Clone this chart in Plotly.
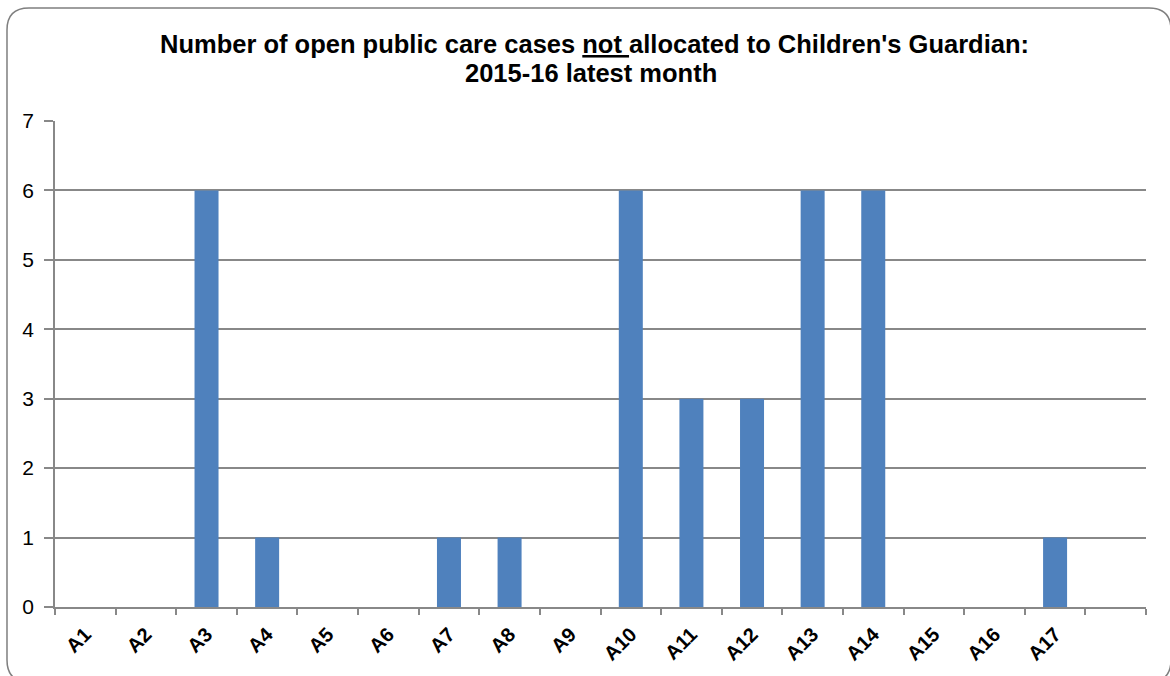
import plotly.graph_objects as go

categories = ["A1", "A2", "A3", "A4", "A5", "A6", "A7", "A8", "A9", "A10",
              "A11", "A12", "A13", "A14", "A15", "A16", "A17"]
values = [0, 0, 6, 1, 0, 0, 1, 1, 0, 6, 3, 3, 6, 6, 0, 0, 1]
axis_slots = categories + [" "]
y_ticks = [0, 1, 2, 3, 4, 5, 6, 7]
title_line1 = "Number of open public care cases <u>not </u>allocated to Children's Guardian:"
title_line2 = "2015-16 latest month"

W, H = 1170, 676
ML, MR, MT, MB = 55, 24, 121, 69
PW, PH = W - ML - MR, H - MT - MB


def px(x):
    return (x - ML) / PW


def py(y):
    return (H - MB - y) / PH


fig = go.Figure()
fig.add_trace(go.Bar(x=categories, y=values, marker=dict(color="#4F81BD", line=dict(width=0))))

grey = "#888888"
fig.update_layout(
    width=W, height=H,
    margin=dict(l=ML, r=MR, t=MT, b=MB, autoexpand=False),
    paper_bgcolor="white", plot_bgcolor="white",
    bargap=0.604,
    showlegend=False,
    font=dict(family="Liberation Sans, Arial, sans-serif", color="black"),
    xaxis=dict(
        type="category", categoryorder="array", categoryarray=axis_slots,
        range=[-0.5, len(axis_slots) - 0.5],
        tickson="boundaries", ticks="outside", ticklen=6, tickcolor=grey, tickwidth=1.5,
        showline=True, linecolor=grey, linewidth=1.5,
        showgrid=False, tickangle=-45, ticklabelstandoff=6,
        tickfont=dict(size=20, family="Liberation Sans, Arial, sans-serif", weight="bold"),
        fixedrange=True,
    ),
    yaxis=dict(
        range=[0, 7], tickvals=y_ticks, ticks="outside", ticklen=9, tickcolor=grey, tickwidth=1.5,
        showline=True, linecolor=grey, linewidth=1.5,
        showgrid=True, gridcolor=grey, gridwidth=1.5, zeroline=False,
        ticklabelstandoff=6,
        tickfont=dict(size=21), fixedrange=True,
    ),
)

# title lines
fig.add_annotation(text="<b>" + title_line1 + "</b>", xref="paper", yref="paper",
                   x=px(594), y=py(44), xanchor="center", yanchor="middle",
                   showarrow=False, font=dict(size=25.5))
fig.add_annotation(text="<b>" + title_line2 + "</b>", xref="paper", yref="paper",
                   x=px(591), y=py(73), xanchor="center", yanchor="middle",
                   showarrow=False, font=dict(size=25.5))

# rounded chart border
x0, y0, x1, y1, r = 7, 8, 1171, 682, 22
pts = [
    ("M", [(x0 + r, y0)]),
    ("L", [(x1 - r, y0)]),
    ("Q", [(x1, y0), (x1, y0 + r)]),
    ("L", [(x1, y1 - r)]),
    ("Q", [(x1, y1), (x1 - r, y1)]),
    ("L", [(x0 + r, y1)]),
    ("Q", [(x0, y1), (x0, y1 - r)]),
    ("L", [(x0, y0 + r)]),
    ("Q", [(x0, y0), (x0 + r, y0)]),
]
path = " ".join(cmd + " " + " ".join(f"{px(a):.5f},{py(b):.5f}" for a, b in p) for cmd, p in pts) + " Z"
fig.add_shape(type="path", path=path, xref="paper", yref="paper",
              line=dict(color="#7f7f7f", width=1.5), layer="above")

fig.write_html("out.html", config={"displayModeBar": False},
               post_script="document.body.style.margin='0';document.body.style.overflow='hidden';")
